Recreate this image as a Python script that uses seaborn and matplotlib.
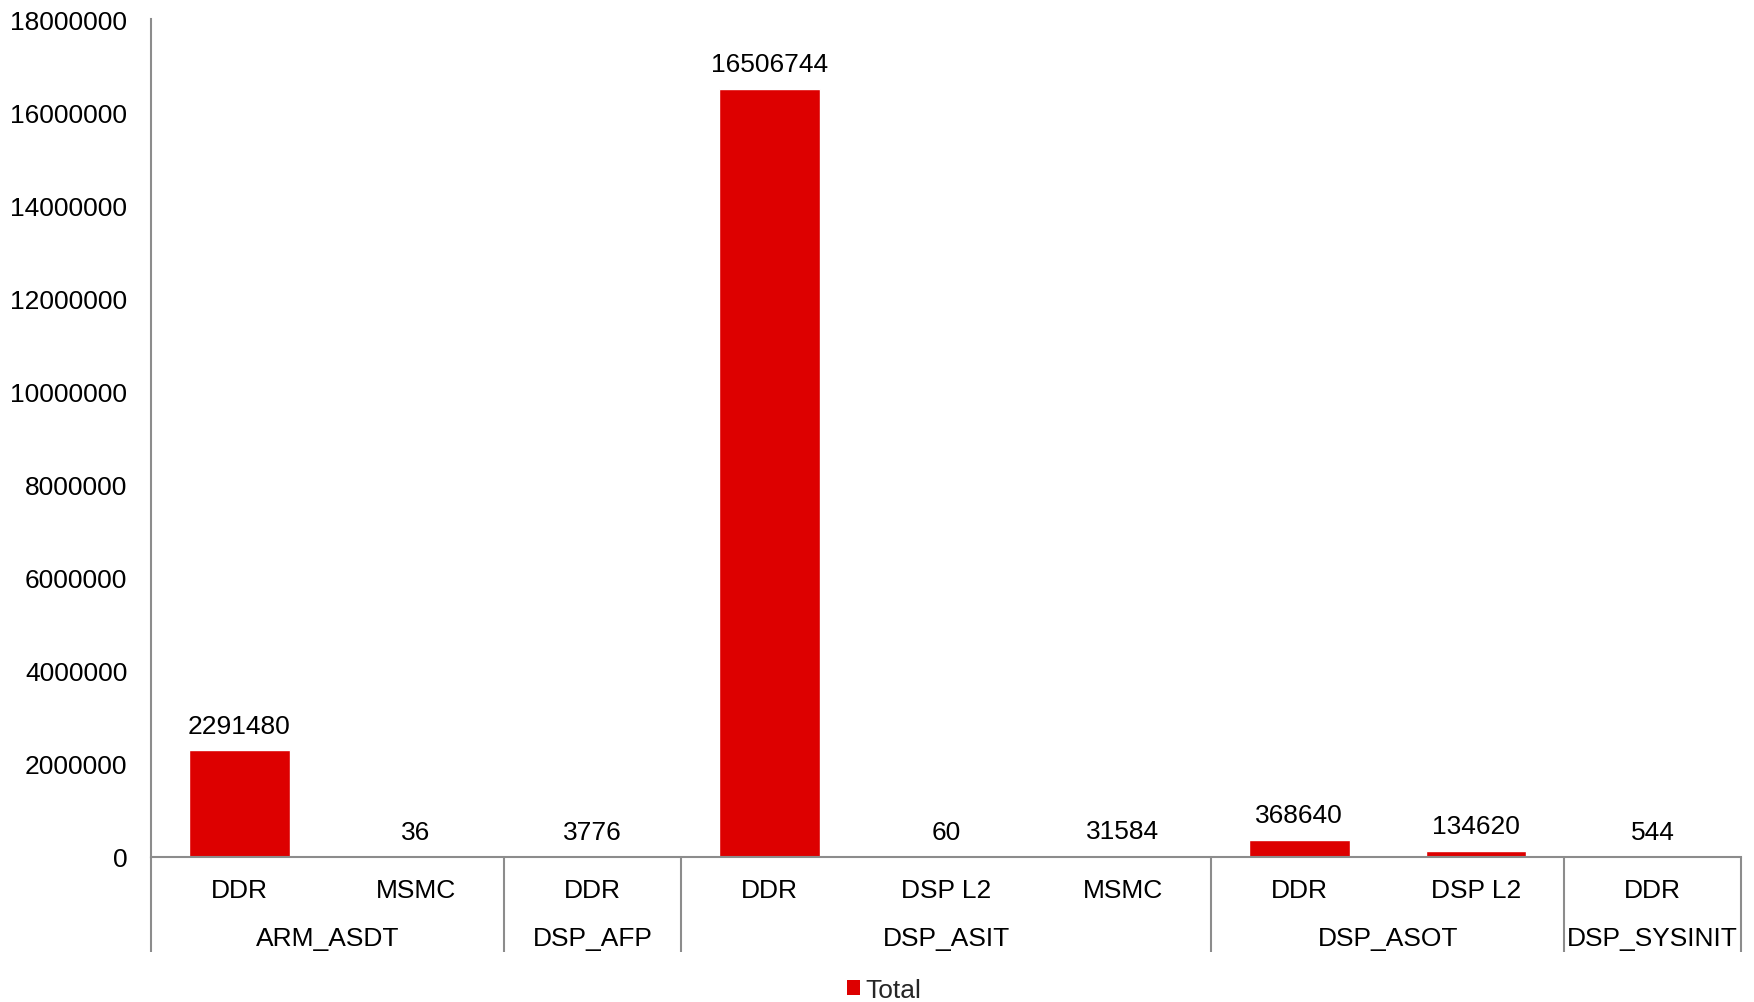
import matplotlib
matplotlib.use("Agg")
import matplotlib.pyplot as plt
import matplotlib.transforms as mtransforms
from matplotlib.patches import Patch
import seaborn as sns
import pandas as pd

# Memory usage totals per module / memory region
groups = ["ARM_ASDT", "ARM_ASDT", "DSP_AFP", "DSP_ASIT", "DSP_ASIT", "DSP_ASIT",
          "DSP_ASOT", "DSP_ASOT", "DSP_SYSINIT"]
regions = ["DDR", "MSMC", "DDR", "DDR", "DSP L2", "MSMC", "DDR", "DSP L2", "DDR"]
totals = [2291480, 36, 3776, 16506744, 60, 31584, 368640, 134620, 544]
y_ticks = [0, 2000000, 4000000, 6000000, 8000000, 10000000, 12000000,
           14000000, 16000000, 18000000]

sns.set_theme(style="white")
plt.rcParams["font.family"] = ["Liberation Sans", "DejaVu Sans"]

BAR_RED = "#DD0000"
AXIS_GREY = "#8C8C8C"
FS = 19

df = pd.DataFrame({"group": groups, "region": regions, "total": totals})
df["key"] = df["group"] + "|" + df["region"]

fig = plt.figure(figsize=(17.54, 10.03), dpi=100)
ax = fig.add_axes([151 / 1754, 1 - 858 / 1003, (1741 - 151) / 1754, (858 - 20) / 1003])

sns.barplot(data=df, x="key", y="total", order=list(df["key"]), color=BAR_RED,
            saturation=1, width=0.57, ax=ax, errorbar=None)

ax.set_xlim(-0.5, len(df) - 0.5)
ax.set_ylim(0, 18000000)
ax.set_yticks(y_ticks)
ax.set_yticklabels([str(v) for v in y_ticks], fontsize=FS, color="black")
ax.tick_params(axis="y", length=0, pad=17)
ax.set_xticks([])
ax.set_xlabel("")
ax.set_ylabel("")

for side in ["top", "right"]:
    ax.spines[side].set_visible(False)
for side in ["left", "bottom"]:
    ax.spines[side].set_color(AXIS_GREY)
    ax.spines[side].set_linewidth(1.5)

# Value labels above each bar
for cont in ax.containers:
    ax.bar_label(cont, labels=[str(v) for v in totals], padding=9,
                 fontsize=FS, color="black")

# Two-level category axis below the plot
trans = mtransforms.blended_transform_factory(ax.transData, ax.transAxes)
ax_h = 858 - 20
for i, r in enumerate(regions):
    ax.text(i, -(891 - 858) / ax_h, r, transform=trans, ha="center", va="center",
            fontsize=FS, color="black")

bounds = [-0.5]
for i in range(1, len(groups)):
    if groups[i] != groups[i - 1]:
        bounds.append(i - 0.5)
bounds.append(len(groups) - 0.5)

for b in bounds:
    ax.plot([b, b], [0, -(953 - 858) / ax_h], transform=trans, color=AXIS_GREY,
            lw=1.5, clip_on=False, solid_capstyle="butt")

for a, b in zip(bounds[:-1], bounds[1:]):
    name = groups[int(a + 0.5)]
    ax.text((a + b) / 2, -(939 - 858) / ax_h, name, transform=trans, ha="center",
            va="center", fontsize=FS, color="black")

# Legend
fig.legend(handles=[Patch(facecolor=BAR_RED, edgecolor="none", label="Total")],
           loc="center", bbox_to_anchor=(884 / 1754, 1 - 991 / 1003), frameon=False,
           fontsize=FS, handlelength=0.5, handleheight=0.5, handletextpad=0.2,
           borderpad=0, borderaxespad=0)

fig.savefig("out.png", dpi=100, facecolor="white")
